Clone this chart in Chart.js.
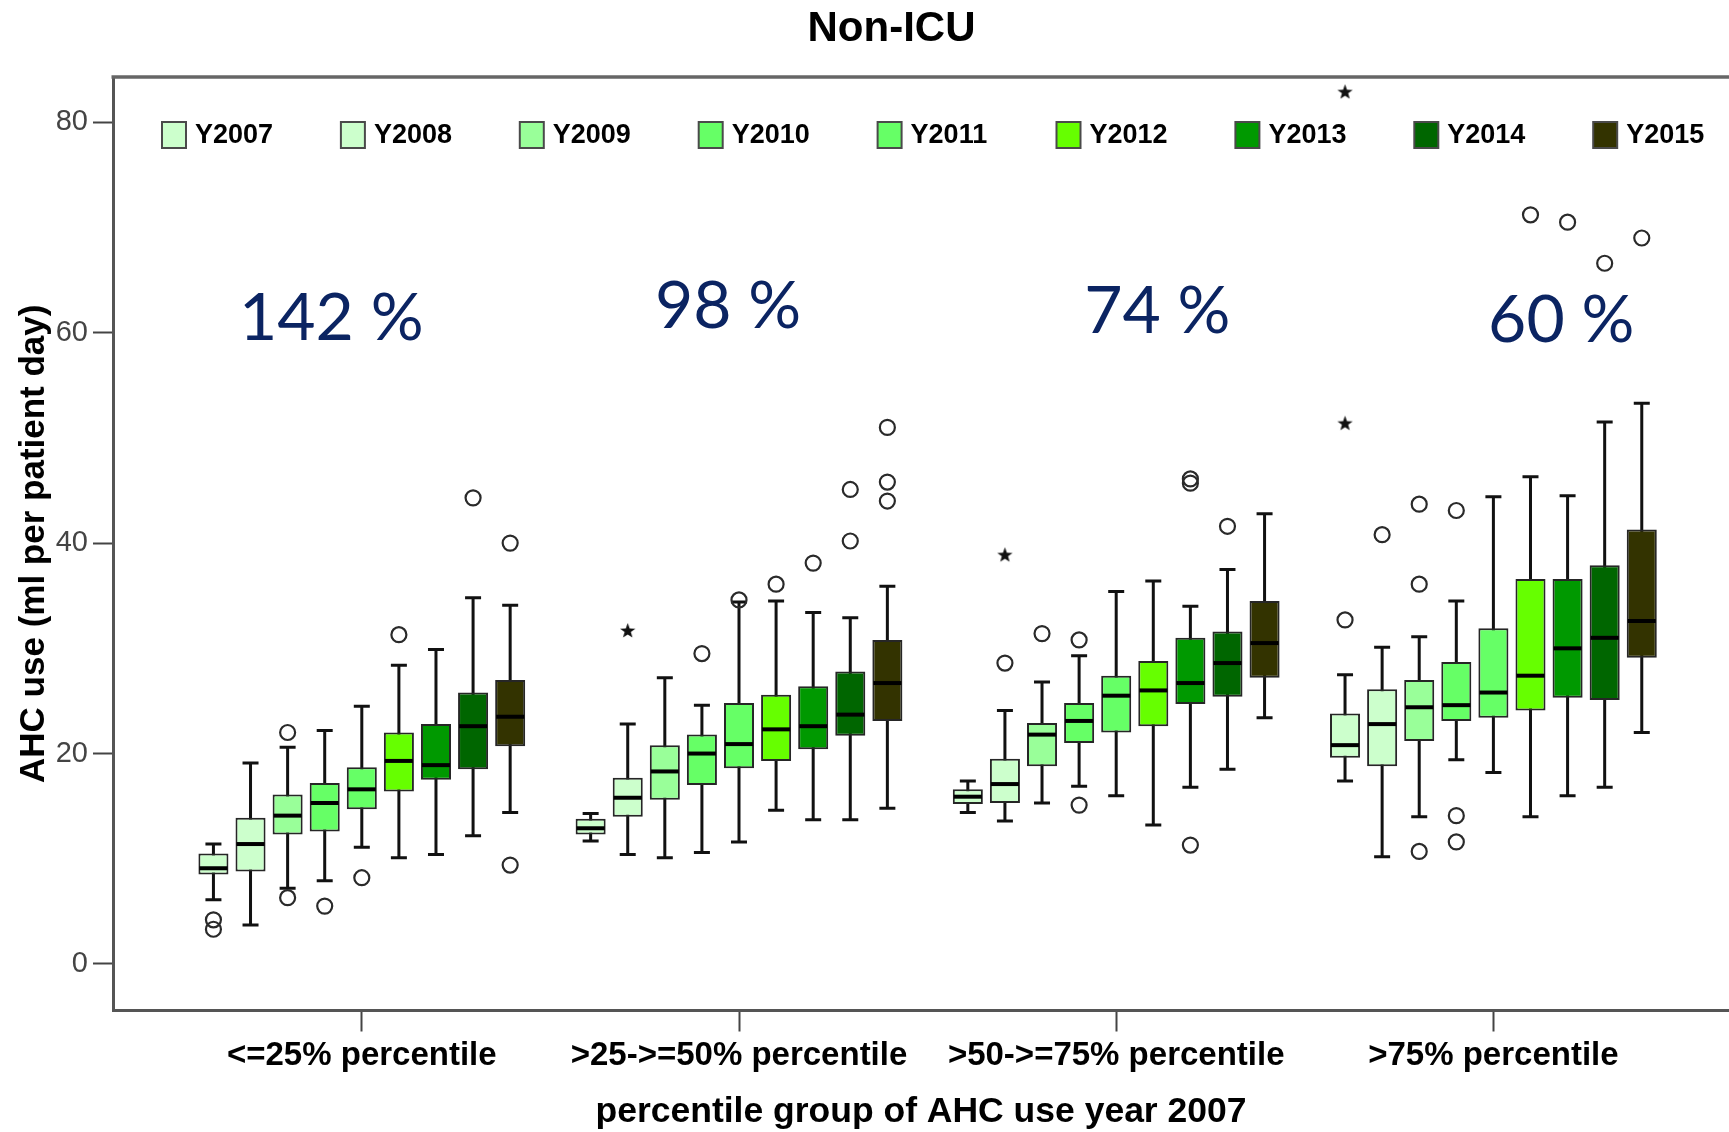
<!DOCTYPE html>
<html>
<head>
<meta charset="utf-8">
<script src="https://cdn.jsdelivr.net/npm/chart.js@4.4.1/dist/chart.umd.min.js"></script>
<style>
  html, body { margin: 0; padding: 0; background: #ffffff; overflow: hidden; }
  canvas { display: block; width: 1729px; height: 1132px; }
</style>
</head>
<body>
<canvas id="chart" width="1729" height="1132"></canvas>
<script>
// ---------------- data ----------------
const chartTitle = 'Non-ICU';
const years = ['Y2007', 'Y2008', 'Y2009', 'Y2010', 'Y2011', 'Y2012', 'Y2013', 'Y2014', 'Y2015'];
const groups = ['<=25% percentile', '>25->=50% percentile', '>50->=75% percentile', '>75% percentile'];
const yTicks = [0, 20, 40, 60, 80];
const xTitle = 'percentile group of AHC use year 2007';
const yTitle = 'AHC use (ml per patient day)';
const changeLabels = ['142 %', '98 %', '74 %', '60 %'];

// per year: values for the four percentile groups
const whiskerLow = [
  [6.1, 11.7, 14.4, 17.4],
  [3.7, 10.4, 13.6, 10.2],
  [7.2, 10.1, 15.3, 14.0],
  [7.9, 10.6, 16.9, 19.4],
  [11.1, 11.6, 16.0, 18.2],
  [10.1, 14.6, 13.2, 14.0],
  [10.4, 13.7, 16.8, 16.0],
  [12.2, 13.7, 18.5, 16.8],
  [14.4, 14.8, 23.4, 22.0]
];
const q1 = [
  [8.5, 12.3, 15.2, 19.6],
  [8.8, 14.0, 15.3, 18.8],
  [12.3, 15.6, 18.8, 21.2],
  [12.6, 17.0, 21.0, 23.1],
  [14.7, 18.6, 22.0, 23.4],
  [16.4, 19.3, 22.6, 24.1],
  [17.5, 20.4, 24.7, 25.3],
  [18.5, 21.7, 25.4, 25.1],
  [20.7, 23.1, 27.2, 29.1]
];
const median = [
  [9.1, 12.9, 15.9, 20.8],
  [11.4, 15.8, 17.1, 22.8],
  [14.1, 18.3, 21.8, 24.4],
  [15.3, 20.0, 23.1, 24.6],
  [16.6, 20.9, 25.5, 25.8],
  [19.3, 22.3, 26.0, 27.4],
  [18.9, 22.6, 26.7, 30.0],
  [22.6, 23.7, 28.6, 31.0],
  [23.5, 26.7, 30.5, 32.6]
];
const q3 = [
  [10.5, 13.8, 16.6, 23.8],
  [13.9, 17.7, 19.5, 26.1],
  [16.1, 20.8, 22.9, 27.0],
  [17.2, 21.8, 24.8, 28.7],
  [18.7, 24.8, 27.4, 31.9],
  [22.0, 25.6, 28.8, 36.6],
  [22.8, 26.4, 31.0, 36.6],
  [25.8, 27.8, 31.6, 37.9],
  [27.0, 30.8, 34.5, 41.3]
];
const whiskerHigh = [
  [11.4, 14.3, 17.4, 27.5],
  [19.1, 22.8, 24.1, 30.1],
  [20.6, 27.2, 26.8, 31.1],
  [22.2, 24.6, 29.3, 34.5],
  [24.5, 34.4, 35.4, 44.4],
  [28.4, 34.5, 36.4, 46.3],
  [29.9, 33.4, 34.0, 44.5],
  [34.8, 32.9, 37.5, 51.5],
  [34.1, 35.9, 42.8, 53.3]
];
// [yearIndex, groupIndex, value]
const outliers = [
  [0, 0, 4.2], [0, 0, 3.3], [2, 0, 22.0], [2, 0, 6.3], [3, 0, 5.5], [4, 0, 8.2],
  [5, 0, 31.3], [7, 0, 44.3], [8, 0, 40.0], [8, 0, 9.4],
  [3, 1, 29.5], [4, 1, 34.6], [5, 1, 36.1], [6, 1, 38.1], [7, 1, 45.1], [7, 1, 40.2],
  [8, 1, 51.0], [8, 1, 45.8], [8, 1, 44.0],
  [1, 2, 28.6], [2, 2, 31.4], [3, 2, 30.8], [3, 2, 15.1], [6, 2, 46.1], [6, 2, 45.7],
  [6, 2, 11.3], [7, 2, 41.6],
  [0, 3, 32.7], [1, 3, 40.8], [2, 3, 43.7], [2, 3, 36.1], [2, 3, 10.7], [3, 3, 43.1],
  [3, 3, 14.1], [3, 3, 11.6], [5, 3, 71.2], [6, 3, 70.5], [7, 3, 66.6], [8, 3, 69.0]
];
const extremes = [
  [1, 1, 31.7], [1, 2, 38.9], [0, 3, 51.4], [0, 3, 82.9]
];

// ---------------- styles / layout ----------------
const yearColors = ['#CCFFCC', '#CCFFCC', '#99FF99', '#66FF66', '#66FF66', '#66FF00', '#009900', '#006600', '#333300'];
const CAT_PCT = 0.885;
const BAR_PCT = 0.81;
const slot = CAT_PCT / years.length;
const xOf = (yi, g) => g + (yi - (years.length - 1) / 2) * slot;
// text anchors (data space) for the change labels
const labelAnchorX = [-0.081, 0.971, 2.109, 3.18];
const labelAnchorY = [59.35, 60.4, 60.0, 59.1];

const FONT = '"Liberation Sans", Arial, Helvetica, sans-serif';
Chart.defaults.font.family = FONT;
Chart.defaults.color = '#000';

// filled five-point star marker for extreme values
const starMarker = (() => {
  const c = document.createElement('canvas');
  c.width = 17; c.height = 17;
  const k = c.getContext('2d');
  k.fillStyle = '#111';
  k.beginPath();
  for (let i = 0; i < 10; i++) {
    const r = i % 2 ? 3.3 : 8;
    const a = -Math.PI / 2 + i * Math.PI / 5;
    k.lineTo(8.5 + r * Math.cos(a), 9.1 + r * Math.sin(a));
  }
  k.closePath();
  k.fill();
  return c;
})();

const boxDatasets = years.map((label, yi) => ({
  type: 'bar',
  label,
  order: 1,
  data: groups.map((_, g) => ({ x: g, y: [q1[yi][g], q3[yi][g]] })),
  backgroundColor: yearColors[yi],
  borderColor: '#262626',
  borderWidth: 2,
  borderSkipped: false,
  barPercentage: BAR_PCT,
  categoryPercentage: CAT_PCT
}));

const outlierDataset = {
  type: 'scatter',
  label: 'outliers',
  order: 0,
  data: outliers.map(([yi, g, v]) => ({ x: xOf(yi, g), y: v })),
  pointStyle: 'circle',
  pointRadius: 7.5,
  pointBorderWidth: 2.2,
  pointBorderColor: '#2a2a2a',
  pointBackgroundColor: 'rgba(0,0,0,0)',
  showLine: false
};
const extremeDataset = {
  type: 'scatter',
  label: 'extremes',
  order: 0,
  data: extremes.map(([yi, g, v]) => ({ x: xOf(yi, g), y: v })),
  pointStyle: starMarker,
  pointRadius: 8,
  showLine: false
};

const boxPlugin = {
  id: 'boxParts',
  beforeDatasetsDraw(chart) {
    const { ctx, scales: { y } } = chart;
    ctx.save();
    ctx.strokeStyle = '#111';
    ctx.lineWidth = 3;
    years.forEach((_, yi) => {
      chart.getDatasetMeta(yi).data.forEach((bar, g) => {
        const x = bar.x, cap = 8;
        const yl = y.getPixelForValue(whiskerLow[yi][g]);
        const yh = y.getPixelForValue(whiskerHigh[yi][g]);
        ctx.beginPath();
        ctx.moveTo(x, yl); ctx.lineTo(x, yh);
        ctx.moveTo(x - cap, yl); ctx.lineTo(x + cap, yl);
        ctx.moveTo(x - cap, yh); ctx.lineTo(x + cap, yh);
        ctx.stroke();
      });
    });
    ctx.restore();
  },
  afterDatasetsDraw(chart) {
    const { ctx, scales: { y } } = chart;
    ctx.save();
    ctx.strokeStyle = '#000';
    ctx.lineWidth = 4;
    years.forEach((_, yi) => {
      chart.getDatasetMeta(yi).data.forEach((bar, g) => {
        const ym = y.getPixelForValue(median[yi][g]);
        ctx.beginPath();
        ctx.moveTo(bar.x - bar.width / 2 + 1, ym);
        ctx.lineTo(bar.x + bar.width / 2 - 1, ym);
        ctx.stroke();
      });
    });
    ctx.restore();
  }
};

const decorPlugin = {
  id: 'decor',
  beforeDraw(chart) {
    const { ctx } = chart;
    ctx.save();
    ctx.fillStyle = '#fff';
    ctx.fillRect(0, 0, chart.width, chart.height);
    ctx.restore();
  },
  afterDraw(chart) {
    const { ctx, chartArea: a, scales: { x, y } } = chart;
    ctx.save();
    // top frame line
    ctx.strokeStyle = '#666';
    ctx.lineWidth = 3.5;
    ctx.beginPath();
    ctx.moveTo(a.left - 1.5, a.top);
    ctx.lineTo(chart.width, a.top);
    ctx.stroke();

    // title
    ctx.fillStyle = '#000';
    ctx.font = 'bold 42px ' + FONT;
    ctx.textAlign = 'center';
    ctx.textBaseline = 'middle';
    ctx.fillText(chartTitle, 891.5, 29);

    // legend inside plot
    ctx.font = 'bold 27px ' + FONT;
    ctx.textAlign = 'left';
    ctx.textBaseline = 'middle';
    years.forEach((label, i) => {
      const bx = a.left + 49 + i * 178.9;
      const by = a.top + 45;
      ctx.fillStyle = yearColors[i];
      ctx.fillRect(bx, by, 24, 26);
      ctx.strokeStyle = '#4a4a4a';
      ctx.lineWidth = 2;
      ctx.strokeRect(bx, by, 24, 26);
      ctx.fillStyle = '#000';
      ctx.fillText(label, bx + 33, by + 14);
    });

    // change annotations
    ctx.font = '66px Lato, "Open Sans", ' + FONT;
    ctx.fillStyle = '#0b2462';
    ctx.textAlign = 'center';
    ctx.textBaseline = 'alphabetic';
    changeLabels.forEach((t, i) => {
      ctx.fillText(t, x.getPixelForValue(labelAnchorX[i]), y.getPixelForValue(labelAnchorY[i]));
    });
    ctx.restore();
  }
};

new Chart(document.getElementById('chart'), {
  type: 'bar',
  data: { datasets: [...boxDatasets, outlierDataset, extremeDataset] },
  options: {
    responsive: false,
    maintainAspectRatio: false,
    animation: false,
    devicePixelRatio: 1,
    events: [],
    layout: { autoPadding: false, padding: { top: 77, left: 0, right: 0, bottom: 0 } },
    plugins: {
      legend: { display: false },
      title: { display: false },
      tooltip: { enabled: false }
    },
    scales: {
      x: {
        type: 'linear',
        bounds: 'data',
        min: -0.6596,
        max: 3.6246,
        offset: false,
        afterFit: (s) => { s.height = 121.5; s.paddingLeft = 0; s.paddingRight = 0; },
        afterBuildTicks: (s) => { s.ticks = groups.map((_, i) => ({ value: i })); },
        grid: {
          offset: false,
          drawOnChartArea: false,
          drawTicks: true,
          tickLength: 21,
          tickColor: '#444',
          tickWidth: 2
        },
        border: { display: true, color: '#555', width: 3 },
        ticks: {
          autoSkip: false,
          maxRotation: 0,
          padding: 5,
          color: '#000',
          font: { size: 33, weight: 'bold' },
          callback: (v) => groups[v]
        },
        title: {
          display: true,
          text: xTitle,
          color: '#000',
          font: { size: 35.5, weight: 'bold', lineHeight: 1.1 },
          padding: { top: 0, bottom: 0 }
        }
      },
      y: {
        type: 'linear',
        bounds: 'data',
        min: -4.42,
        max: 84.3,
        afterFit: (s) => { s.width = 113; s.paddingTop = 0; s.paddingBottom = 0; },
        afterBuildTicks: (s) => { s.ticks = yTicks.map(v => ({ value: v })); },
        grid: {
          drawOnChartArea: false,
          drawTicks: true,
          tickLength: 20,
          tickColor: '#444',
          tickWidth: 2
        },
        border: { display: true, color: '#555', width: 3 },
        ticks: {
          padding: 5,
          color: '#444',
          font: { size: 29 }
        },
        title: {
          display: true,
          text: yTitle,
          color: '#000',
          font: { size: 35, weight: 'bold', lineHeight: 1.2 },
          padding: { top: 13, bottom: 0 }
        }
      }
    }
  },
  plugins: [boxPlugin, decorPlugin]
});
</script>
</body>
</html>
